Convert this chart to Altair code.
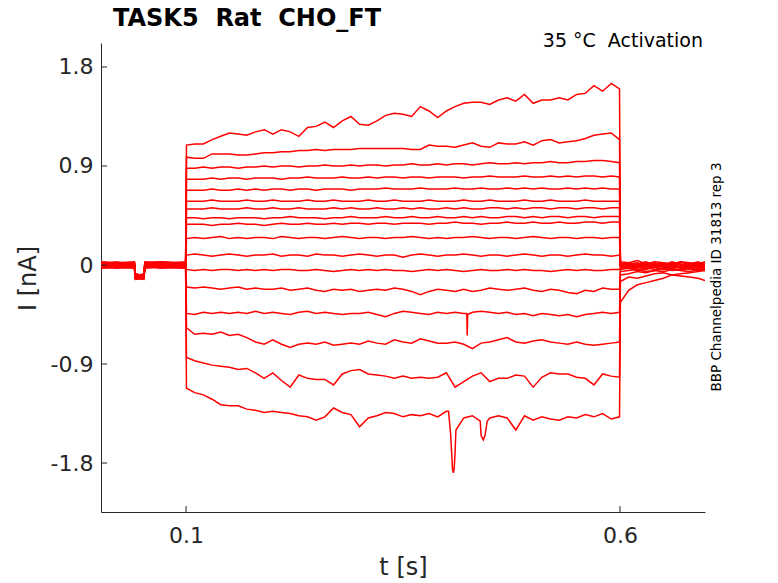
import altair as alt
import pandas as pd

# ---------------- data ----------------
TITLE = "TASK5\u00a0 Rat\u00a0 CHO_FT"
CONDITION = "35 °C\u00a0 Activation"
SIDE_NOTE = "BBP Channelpedia ID 31813 rep 3"

Y_TICKS = [-1.8, -0.9, 0, 0.9, 1.8]
X_TICKS = [0.1, 0.6]

# holding period before the step (s)
pre_t = [0.002, 0.02, 0.0405, 0.0415, 0.0515, 0.0525, 0.07, 0.0995]
# step period: samples every 10 ms
step_t = [0.1005] + [round(0.1 + 0.01 * k, 3) for k in range(1, 50)] + [0.5995]
# tail after the step
tail_t = [0.6005, 0.61, 0.62, 0.63, 0.64, 0.65, 0.66, 0.67, 0.68, 0.69, 0.698]

pre_vals = [
    [0.02, 0.01, 0.02, -0.10, -0.11, 0.01, 0.02, 0.01],
    [-0.01, 0.00, -0.01, -0.12, -0.10, -0.01, 0.00, -0.02],
    [0.01, 0.03, 0.00, -0.09, -0.12, 0.02, 0.01, 0.03],
    [-0.02, -0.01, 0.01, -0.11, -0.09, 0.00, -0.02, 0.00],
    [0.03, 0.02, 0.03, -0.08, -0.10, 0.03, 0.02, 0.02],
    [0.00, -0.02, -0.01, -0.12, -0.11, -0.02, 0.01, -0.01],
    [-0.03, -0.02, -0.03, -0.13, -0.12, -0.03, -0.02, -0.03],
    [0.01, 0.02, 0.02, -0.10, -0.08, 0.01, 0.03, 0.02],
    [-0.01, 0.01, 0.00, -0.11, -0.12, 0.00, -0.01, 0.00],
    [0.02, 0.00, 0.01, -0.09, -0.10, 0.02, 0.00, 0.01],
    [-0.02, -0.03, -0.02, -0.12, -0.13, -0.01, -0.03, -0.02],
    [0.00, 0.01, -0.01, -0.10, -0.09, 0.01, 0.00, -0.01],
    [0.03, 0.01, 0.02, -0.09, -0.11, 0.02, 0.03, 0.01],
    [-0.01, -0.02, 0.00, -0.11, -0.10, -0.01, -0.02, 0.00],
    [0.01, 0.00, 0.01, -0.10, -0.12, 0.00, 0.01, 0.02],
    [-0.03, -0.01, -0.02, -0.12, -0.11, -0.02, -0.01, -0.03],
    [0.00, 0.02, 0.01, -0.08, -0.10, 0.01, 0.02, 0.00],
]

step_vals = [
    # 1
    [1.09, 1.10, 1.10, 1.14, 1.17, 1.20, 1.19, 1.18, 1.21, 1.23, 1.19, 1.23, 1.21, 1.17, 1.25, 1.26, 1.30,
     1.25, 1.31, 1.35, 1.28, 1.27, 1.31, 1.36, 1.38, 1.37, 1.35, 1.44, 1.40, 1.34, 1.40, 1.44, 1.47, 1.48,
     1.48, 1.46, 1.50, 1.52, 1.49, 1.55, 1.47, 1.50, 1.50, 1.52, 1.50, 1.55, 1.56, 1.63, 1.58, 1.65, 1.60],
    # 2
    [0.98, 0.97, 0.97, 1.01, 1.01, 1.01, 1.00, 1.00, 1.01, 1.02, 1.02, 1.03, 1.03, 1.04, 1.04, 1.05, 1.04,
     1.05, 1.05, 1.05, 1.06, 1.06, 1.06, 1.06, 1.06, 1.06, 1.05, 1.05, 1.09, 1.08, 1.08, 1.07, 1.09, 1.11,
     1.08, 1.07, 1.11, 1.10, 1.10, 1.12, 1.09, 1.13, 1.14, 1.11, 1.12, 1.13, 1.15, 1.18, 1.19, 1.20, 1.14],
    # 3
    [0.88, 0.88, 0.89, 0.88, 0.89, 0.89, 0.88, 0.89, 0.89, 0.90, 0.89, 0.90, 0.90, 0.89, 0.90, 0.90, 0.91,
     0.90, 0.90, 0.91, 0.90, 0.91, 0.91, 0.90, 0.91, 0.91, 0.92, 0.91, 0.91, 0.92, 0.91, 0.92, 0.92, 0.91,
     0.92, 0.93, 0.92, 0.92, 0.93, 0.92, 0.93, 0.93, 0.94, 0.93, 0.93, 0.94, 0.94, 0.95, 0.95, 0.94, 0.93],
    # 4
    [0.78, 0.78, 0.78, 0.79, 0.78, 0.79, 0.79, 0.78, 0.79, 0.79, 0.79, 0.78, 0.79, 0.79, 0.80, 0.79, 0.79,
     0.79, 0.80, 0.79, 0.79, 0.80, 0.79, 0.80, 0.80, 0.79, 0.80, 0.80, 0.79, 0.80, 0.80, 0.80, 0.79, 0.80,
     0.80, 0.81, 0.80, 0.80, 0.80, 0.81, 0.80, 0.80, 0.81, 0.80, 0.81, 0.80, 0.81, 0.81, 0.80, 0.81, 0.80],
    # 5
    [0.68, 0.68, 0.68, 0.69, 0.68, 0.68, 0.69, 0.68, 0.69, 0.68, 0.69, 0.69, 0.68, 0.69, 0.69, 0.68, 0.69,
     0.69, 0.69, 0.68, 0.69, 0.69, 0.69, 0.70, 0.69, 0.69, 0.69, 0.70, 0.69, 0.69, 0.69, 0.70, 0.69, 0.69,
     0.70, 0.69, 0.69, 0.70, 0.69, 0.70, 0.69, 0.70, 0.69, 0.69, 0.70, 0.69, 0.70, 0.69, 0.70, 0.69, 0.69],
    # 6
    [0.58, 0.58, 0.58, 0.59, 0.58, 0.58, 0.58, 0.59, 0.58, 0.58, 0.59, 0.58, 0.58, 0.58, 0.59, 0.58, 0.58,
     0.59, 0.58, 0.58, 0.58, 0.59, 0.58, 0.58, 0.59, 0.58, 0.58, 0.58, 0.59, 0.58, 0.58, 0.58, 0.59, 0.58,
     0.58, 0.59, 0.58, 0.58, 0.58, 0.59, 0.58, 0.58, 0.59, 0.58, 0.58, 0.58, 0.59, 0.58, 0.58, 0.58, 0.58],
    # 7
    [0.51, 0.51, 0.51, 0.52, 0.51, 0.51, 0.51, 0.52, 0.51, 0.51, 0.52, 0.51, 0.51, 0.52, 0.51, 0.51, 0.51,
     0.52, 0.51, 0.52, 0.51, 0.51, 0.52, 0.51, 0.51, 0.52, 0.51, 0.52, 0.51, 0.51, 0.52, 0.51, 0.52, 0.51,
     0.51, 0.52, 0.52, 0.51, 0.52, 0.51, 0.52, 0.52, 0.51, 0.52, 0.52, 0.51, 0.52, 0.52, 0.51, 0.52, 0.52],
    # 8
    [0.43, 0.43, 0.42, 0.43, 0.43, 0.42, 0.43, 0.43, 0.43, 0.42, 0.43, 0.43, 0.44, 0.43, 0.43, 0.43, 0.42,
     0.43, 0.43, 0.44, 0.43, 0.43, 0.43, 0.44, 0.43, 0.43, 0.44, 0.43, 0.43, 0.44, 0.43, 0.43, 0.44, 0.43,
     0.44, 0.43, 0.43, 0.44, 0.44, 0.43, 0.44, 0.43, 0.44, 0.44, 0.43, 0.44, 0.44, 0.43, 0.44, 0.44, 0.44],
    # 9
    [0.37, 0.37, 0.37, 0.36, 0.37, 0.37, 0.38, 0.37, 0.37, 0.36, 0.37, 0.38, 0.37, 0.37, 0.38, 0.37, 0.37,
     0.38, 0.37, 0.38, 0.38, 0.37, 0.38, 0.38, 0.37, 0.38, 0.38, 0.38, 0.37, 0.38, 0.38, 0.39, 0.38, 0.38,
     0.37, 0.38, 0.38, 0.39, 0.38, 0.38, 0.39, 0.38, 0.38, 0.39, 0.38, 0.38, 0.39, 0.39, 0.38, 0.39, 0.39],
    # 10
    [0.24, 0.25, 0.24, 0.25, 0.26, 0.24, 0.25, 0.24, 0.25, 0.25, 0.24, 0.26, 0.25, 0.24, 0.25, 0.25, 0.24,
     0.25, 0.26, 0.25, 0.24, 0.25, 0.25, 0.24, 0.25, 0.25, 0.26, 0.25, 0.24, 0.25, 0.24, 0.25, 0.25, 0.26,
     0.25, 0.24, 0.25, 0.25, 0.24, 0.25, 0.26, 0.25, 0.24, 0.25, 0.25, 0.24, 0.25, 0.25, 0.24, 0.25, 0.25],
    # 11
    [0.09, 0.10, 0.09, 0.08, 0.09, 0.10, 0.09, 0.08, 0.09, 0.09, 0.10, 0.08, 0.09, 0.09, 0.08, 0.10, 0.09,
     0.09, 0.08, 0.09, 0.10, 0.09, 0.08, 0.09, 0.09, 0.07, 0.09, 0.10, 0.09, 0.08, 0.09, 0.09, 0.10, 0.09,
     0.08, 0.09, 0.09, 0.08, 0.09, 0.10, 0.09, 0.08, 0.09, 0.09, 0.08, 0.09, 0.10, 0.09, 0.09, 0.08, 0.09],
    # 12
    [-0.04, -0.05, -0.04, -0.05, -0.04, -0.04, -0.05, -0.04, -0.05, -0.04, -0.05, -0.04, -0.04, -0.05, -0.05,
     -0.04, -0.05, -0.06, -0.05, -0.04, -0.05, -0.04, -0.05, -0.04, -0.05, -0.05, -0.06, -0.05, -0.04, -0.05,
     -0.04, -0.05, -0.06, -0.05, -0.04, -0.05, -0.05, -0.04, -0.05, -0.04, -0.05, -0.05, -0.06, -0.05, -0.04,
     -0.05, -0.04, -0.05, -0.05, -0.04, -0.04],
    # 13
    [-0.20, -0.21, -0.20, -0.21, -0.22, -0.21, -0.20, -0.22, -0.21, -0.22, -0.22, -0.21, -0.23, -0.22, -0.21,
     -0.23, -0.24, -0.22, -0.23, -0.22, -0.24, -0.23, -0.22, -0.23, -0.21, -0.22, -0.24, -0.27, -0.24, -0.22,
     -0.23, -0.24, -0.22, -0.24, -0.23, -0.21, -0.22, -0.23, -0.22, -0.21, -0.23, -0.24, -0.22, -0.23, -0.25,
     -0.26, -0.23, -0.24, -0.21, -0.22, -0.22],
    # 14
    [-0.44, -0.45, -0.43, -0.44, -0.43, -0.44, -0.43, -0.44, -0.42, -0.44, -0.43, -0.44, -0.45, -0.43, -0.42,
     -0.44, -0.43, -0.44, -0.45, -0.44, -0.44, -0.43, -0.45, -0.47, -0.44, -0.42, -0.43, -0.44, -0.45, -0.43,
     -0.44, -0.43, -0.44, -0.43, -0.42, -0.43, -0.44, -0.43, -0.45, -0.44, -0.46, -0.44, -0.45, -0.46, -0.45,
     -0.47, -0.45, -0.44, -0.43, -0.44, -0.43],
    # 15
    [-0.57, -0.63, -0.62, -0.63, -0.61, -0.64, -0.63, -0.66, -0.70, -0.72, -0.68, -0.72, -0.75, -0.72, -0.71,
     -0.72, -0.70, -0.73, -0.72, -0.71, -0.72, -0.69, -0.71, -0.72, -0.68, -0.70, -0.71, -0.67, -0.69, -0.71,
     -0.71, -0.70, -0.72, -0.76, -0.71, -0.70, -0.68, -0.66, -0.70, -0.71, -0.69, -0.68, -0.70, -0.71, -0.72,
     -0.70, -0.72, -0.73, -0.72, -0.71, -0.70],
    # 16
    [-0.84, -0.87, -0.89, -0.91, -0.92, -0.93, -0.95, -0.94, -0.98, -1.03, -0.98, -1.05, -1.11, -1.00, -1.03,
     -1.04, -1.04, -1.09, -0.99, -0.96, -0.95, -0.99, -1.00, -1.01, -1.03, -1.01, -1.03, -1.02, -1.03, -1.02,
     -0.98, -1.11, -1.06, -1.01, -0.98, -1.06, -1.03, -1.03, -1.00, -1.01, -1.11, -1.02, -0.98, -0.99, -0.99,
     -1.02, -1.03, -1.09, -0.99, -1.01, -1.02],
    # 17
    [-1.12, -1.16, -1.18, -1.22, -1.27, -1.28, -1.28, -1.31, -1.32, -1.34, -1.33, -1.34, -1.35, -1.37, -1.38,
     -1.41, -1.38, -1.30, -1.34, -1.36, -1.47, -1.39, -1.37, -1.34, -1.35, -1.38, -1.36, -1.37, -1.35, -1.38,
     -1.33, -1.70, -1.39, -1.37, -1.55, -1.39, -1.37, -1.39, -1.50, -1.37, -1.41, -1.38, -1.40, -1.41, -1.38,
     -1.39, -1.36, -1.38, -1.35, -1.40, -1.38],
]

# short, sharp deflections seen inside the step (trace index, t, I)
spike_trace = [14, 14, 14, 17, 17, 17, 17, 17, 17, 17, 17, 17, 17]
spike_t = [0.4235, 0.424, 0.4245, 0.4025, 0.405, 0.407, 0.408, 0.409, 0.411, 0.439, 0.4425, 0.4445, 0.447]
spike_I = [-0.44, -0.64, -0.45, -1.33, -1.55, -1.85, -1.89, -1.85, -1.50, -1.42, -1.59, -1.55, -1.42]

tail_vals = [
    [0.03, 0.02, 0.04, 0.01, 0.03, 0.02, 0.00, 0.03, 0.02, 0.01, 0.03],
    [0.02, 0.00, 0.01, 0.03, 0.00, 0.02, 0.01, 0.03, 0.00, 0.02, 0.01],
    [0.01, 0.02, -0.01, 0.01, 0.02, -0.01, 0.02, 0.00, 0.01, 0.03, 0.00],
    [0.00, 0.01, 0.02, -0.01, 0.01, 0.00, 0.03, 0.01, -0.01, 0.01, 0.02],
    [0.01, -0.01, 0.00, 0.02, -0.01, 0.01, 0.00, -0.02, 0.01, 0.00, -0.01],
    [0.00, 0.02, 0.00, -0.01, 0.01, -0.02, 0.01, 0.00, 0.02, -0.01, 0.00],
    [-0.01, 0.00, -0.02, 0.01, -0.01, 0.00, -0.02, 0.01, -0.01, 0.00, 0.01],
    [0.00, -0.02, 0.01, -0.01, -0.02, 0.01, -0.01, -0.02, 0.00, -0.02, -0.01],
    [-0.01, -0.01, -0.03, 0.00, -0.02, -0.01, 0.00, -0.03, -0.01, -0.02, 0.00],
    [-0.02, -0.01, -0.02, -0.03, 0.00, -0.02, -0.03, -0.01, -0.02, 0.00, -0.02],
    [-0.02, -0.03, -0.01, -0.02, -0.04, -0.02, -0.01, -0.03, -0.02, -0.03, -0.01],
    [-0.03, -0.02, -0.04, -0.03, -0.02, -0.04, -0.03, -0.02, -0.04, -0.02, -0.03],
    [-0.04, -0.03, -0.05, -0.04, -0.02, -0.04, -0.03, -0.05, -0.03, -0.04, -0.02],
    [-0.06, -0.05, -0.04, -0.06, -0.05, -0.03, -0.05, -0.04, -0.03, -0.05, -0.04],
    [-0.09, -0.08, -0.06, -0.07, -0.05, -0.06, -0.04, -0.05, -0.06, -0.04, -0.05],
    [-0.15, -0.11, -0.12, -0.10, -0.08, -0.07, -0.09, -0.10, -0.11, -0.12, -0.14],
    [-0.34, -0.23, -0.18, -0.16, -0.14, -0.12, -0.09, -0.08, -0.07, -0.06, -0.05],
]

# ---------------- build long table ----------------
rows = []
for i in range(len(step_vals)):
    tr = i + 1
    assert len(pre_vals[i]) == len(pre_t)
    assert len(step_vals[i]) == len(step_t), (tr, len(step_vals[i]))
    assert len(tail_vals[i]) == len(tail_t)
    for t, v in zip(pre_t, pre_vals[i]):
        rows.append({"trace": tr, "t": t, "I": v})
    for t, v in zip(step_t, step_vals[i]):
        rows.append({"trace": tr, "t": t, "I": v})
    for t, v in zip(tail_t, tail_vals[i]):
        rows.append({"trace": tr, "t": t, "I": v})
for tr, t, v in zip(spike_trace, spike_t, spike_I):
    rows.append({"trace": tr, "t": t, "I": v})

df = pd.DataFrame(rows).sort_values(["trace", "t"]).reset_index(drop=True)

# ---------------- chart ----------------
FONT = "DejaVu Sans"
AX = "#262626"
W, H = 604, 469

xscale = alt.Scale(domain=[0.002, 0.698], nice=False, zero=False)
yscale = alt.Scale(domain=[-2.245, 2.018], nice=False, zero=False)

lines = alt.Chart(df).mark_line(color="#ff0000", strokeWidth=1.5, clip=True).encode(
    x=alt.X("t:Q", scale=xscale, axis=alt.Axis(
        values=X_TICKS, labelExpr="format(datum.value, '.1f')",
        ticks=False, tickSize=0, grid=False, labelPadding=13,
        labelFont=FONT, labelFontSize=22, labelColor=AX,
        domainColor=AX, domainWidth=1,
        title="t [s]", titleFont=FONT, titleFontSize=24, titleFontWeight="normal",
        titleColor=AX, titleX=302, titleY=55, titleBaseline="middle", titleAlign="center")),
    y=alt.Y("I:Q", scale=yscale, axis=alt.Axis(
        values=Y_TICKS,
        labelExpr="datum.value == 0 ? '0' : (datum.value < 0 ? '-' : '') + format(abs(datum.value), '.1f')",
        ticks=False, tickSize=0, grid=False, labelPadding=8,
        labelFont=FONT, labelFontSize=22, labelColor=AX,
        domainColor=AX, domainWidth=1,
        title="I [nA]", titleFont=FONT, titleFontSize=24, titleFontWeight="normal",
        titleColor=AX, titleAngle=270, titleX=-73, titleY=235,
        titleBaseline="middle", titleAlign="center")),
    detail="trace:N",
    order="t:Q",
)

ytick_df = pd.DataFrame({"I": Y_TICKS})
yticks = alt.Chart(ytick_df).mark_rule(color=AX, strokeWidth=1).encode(
    y=alt.Y("I:Q", scale=yscale),
    x=alt.value(0), x2=alt.value(6),
)
xtick_df = pd.DataFrame({"t": X_TICKS})
xticks = alt.Chart(xtick_df).mark_rule(color=AX, strokeWidth=1).encode(
    x=alt.X("t:Q", scale=xscale),
    y=alt.value(H), y2=alt.value(H - 6),
)

title_txt = alt.Chart(pd.DataFrame({"label": [TITLE]})).mark_text(
    font=FONT, fontSize=24, fontWeight="bold", color="#000000",
    align="left", baseline="alphabetic",
).encode(text="label:N", x=alt.value(12), y=alt.value(-17))

cond_txt = alt.Chart(pd.DataFrame({"label": [CONDITION]})).mark_text(
    font=FONT, fontSize=19, color="#000000", align="right", baseline="alphabetic",
).encode(text="label:N", x=alt.value(602), y=alt.value(4))

side_txt = alt.Chart(pd.DataFrame({"label": [SIDE_NOTE]})).mark_text(
    font=FONT, fontSize=13.5, color="#000000", align="center", baseline="middle", angle=270,
).encode(text="label:N", x=alt.value(616), y=alt.value(234))

chart = alt.layer(lines, yticks, xticks, title_txt, cond_txt, side_txt).properties(
    width=W, height=H,
    autosize="none",
    background="#ffffff",
    padding={"left": 93, "top": 35, "right": 50, "bottom": 72},
).configure_view(stroke="transparent")

chart.save("out.html", embed_options={"renderer": "svg", "actions": False})
